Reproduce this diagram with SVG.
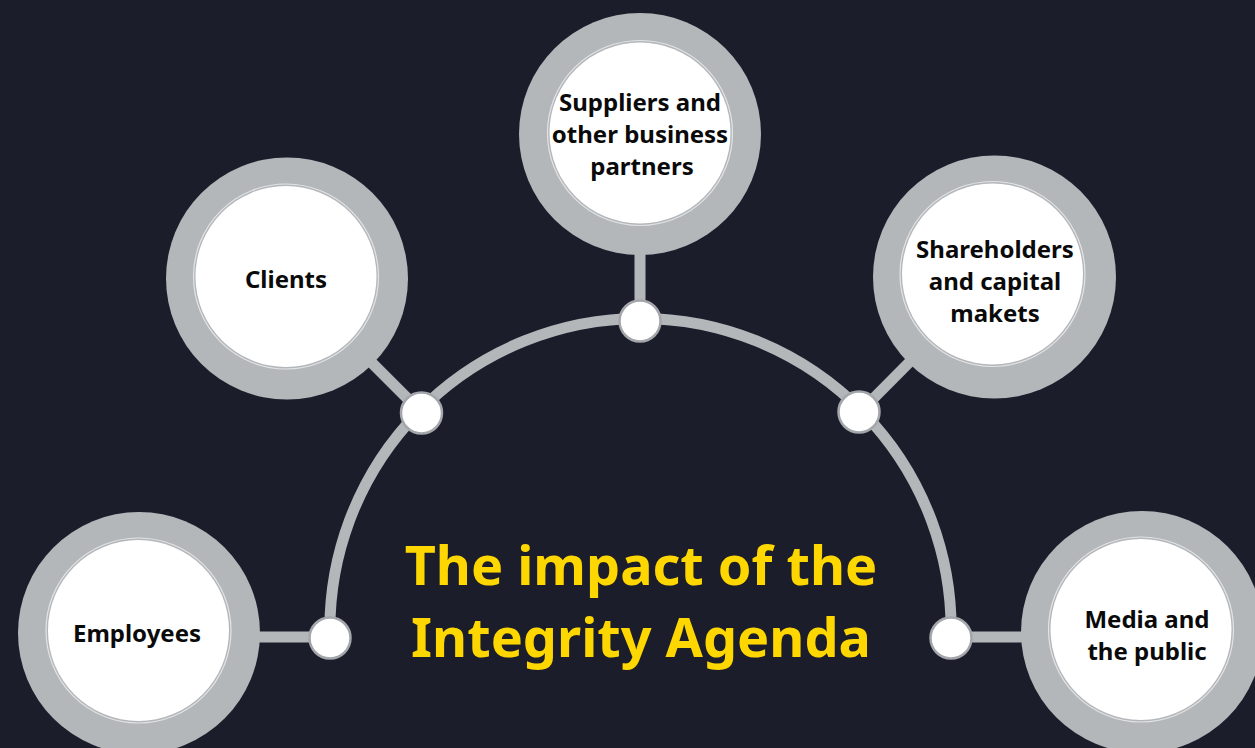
<svg xmlns="http://www.w3.org/2000/svg" width="1255" height="748" viewBox="0 0 1255 748">
<defs>
<style>
.ring{fill:#b4b7ba}
.halo{fill:none;stroke:#e2e3e5;stroke-width:1.2}
.core{fill:#ffffff}
.lbl{font-family:"Noto Sans","Liberation Sans",sans-serif;font-weight:700;font-size:24px;fill:#0a0a0a;text-anchor:middle}
.link{stroke:#b4b7ba;stroke-width:11;fill:none}
.dot{fill:#ffffff;stroke:#a3a6aa;stroke-width:2.5}
.title{font-family:"Noto Sans","Liberation Sans",sans-serif;font-weight:700;font-size:54px;fill:#ffd700;text-anchor:middle}
</style>
</defs>
<rect width="1255" height="748" fill="#1b1e2a"/>
<g id="connectors">
<path class="link" d="M 330 637 A 310.6 310.6 0 1 1 951 637"/>
<line class="link" x1="640" y1="134" x2="640" y2="321"/>
<line class="link" x1="287" y1="278" x2="421" y2="412"/>
<line class="link" x1="994" y1="277" x2="860" y2="412"/>
<line class="link" x1="200" y1="637" x2="330" y2="637"/>
<line class="link" x1="951" y1="637" x2="1080" y2="637"/>
</g>
<g id="node-suppliers">
<circle class="ring" cx="640" cy="134" r="121"/>
<circle class="halo" cx="640" cy="133" r="92.5"/>
<circle class="core" cx="640" cy="133" r="90.5"/>
<text class="lbl" x="640" y="111">Suppliers and</text>
<text class="lbl" x="640" y="143">other business</text>
<text class="lbl" x="642" y="175">partners</text>
</g>
<g id="node-clients">
<circle class="ring" cx="287" cy="278.5" r="121"/>
<circle class="halo" cx="286" cy="276.5" r="92.5"/>
<circle class="core" cx="286" cy="276.5" r="90.5"/>
<text class="lbl" x="286" y="288">Clients</text>
</g>
<g id="node-shareholders">
<circle class="ring" cx="994.5" cy="277" r="121.5"/>
<circle class="halo" cx="992.5" cy="274" r="92.5"/>
<circle class="core" cx="992.5" cy="274" r="90.5"/>
<text class="lbl" x="995" y="258">Shareholders</text>
<text class="lbl" x="995" y="290">and capital</text>
<text class="lbl" x="995" y="322">makets</text>
</g>
<g id="node-employees">
<circle class="ring" cx="139" cy="633" r="121"/>
<circle class="halo" cx="138.5" cy="630.5" r="92.5"/>
<circle class="core" cx="138.5" cy="630.5" r="90.5"/>
<text class="lbl" x="137" y="642">Employees</text>
</g>
<g id="node-media">
<circle class="ring" cx="1142" cy="632" r="121"/>
<circle class="halo" cx="1141" cy="629.5" r="92.5"/>
<circle class="core" cx="1141" cy="629.5" r="90.5"/>
<text class="lbl" x="1147" y="628">Media and</text>
<text class="lbl" x="1147" y="660">the public</text>
</g>
<g id="junctions">
<circle class="dot" cx="640" cy="321" r="20.5"/>
<circle class="dot" cx="421.5" cy="413" r="20.5"/>
<circle class="dot" cx="859" cy="412" r="20.5"/>
<circle class="dot" cx="330" cy="638" r="20.5"/>
<circle class="dot" cx="951" cy="638" r="20.5"/>
</g>
<g id="title">
<text class="title" x="641" y="585">The impact of the</text>
<text class="title" x="641" y="657">Integrity Agenda</text>
</g>
</svg>
